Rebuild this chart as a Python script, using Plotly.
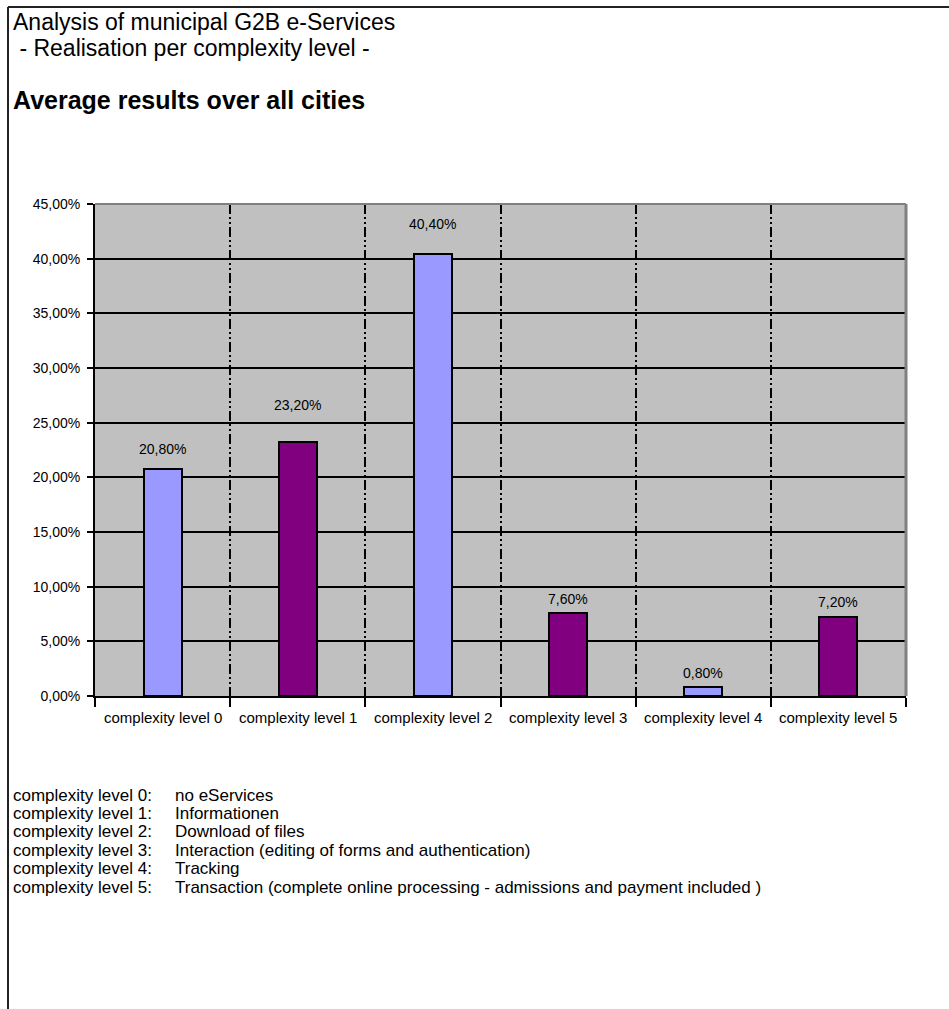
import plotly.graph_objects as go

# Share of municipal G2B e-services per complexity level (average over all cities)
categories = ["complexity level 0", "complexity level 1", "complexity level 2",
              "complexity level 3", "complexity level 4", "complexity level 5"]
shares = [0.208, 0.232, 0.404, 0.076, 0.008, 0.072]
bar_colors = ["#9999FF", "#800080", "#9999FF", "#800080", "#9999FF", "#800080"]

y_ticks = [0.0, 0.05, 0.10, 0.15, 0.20, 0.25, 0.30, 0.35, 0.40, 0.45]

level_names = ["complexity level 0:", "complexity level 1:", "complexity level 2:",
               "complexity level 3:", "complexity level 4:", "complexity level 5:"]
level_descriptions = [
    "no eServices",
    "Informationen",
    "Download of files",
    "Interaction (editing of forms and authentication)",
    "Tracking",
    "Transaction (complete online processing - admissions and payment included )",
]

# value-label lift above each bar top, in pixels
label_lift = [20, 37, 30, 14, 14, 15]

W, H = 949, 1009
L, R, T, B = 95, 906, 204, 696
FONT = "Liberation Sans, Arial, sans-serif"


def px_x(px):
    return (px - L) / (R - L)


def px_y(py):
    return (B - py) / (B - T)


x_idx = list(range(len(categories)))

fig = go.Figure()
fig.add_trace(go.Bar(
    x=x_idx,
    y=shares,
    width=0.28,
    marker=dict(color=bar_colors, line=dict(color="black", width=2)),
    hoverinfo="skip",
))

# value labels above the bars
for i, v in enumerate(shares):
    fig.add_annotation(
        x=i, y=v, xref="x", yref="y",
        text=f"{v * 100:.2f}%".replace(".", ","),
        showarrow=False, yanchor="middle", yshift=label_lift[i],
        font=dict(family=FONT, size=14, color="black"),
    )

# heading texts
fig.add_annotation(x=px_x(11), y=px_y(22), xref="paper", yref="paper",
                   text="Analysis of municipal G2B e-Services", showarrow=False,
                   xanchor="left", yanchor="middle",
                   font=dict(family=FONT, size=23, color="black"))
fig.add_annotation(x=px_x(11), y=px_y(48), xref="paper", yref="paper",
                   text=" - Realisation per complexity level -", showarrow=False,
                   xanchor="left", yanchor="middle",
                   font=dict(family=FONT, size=23, color="black"))
fig.add_annotation(x=px_x(11), y=px_y(100), xref="paper", yref="paper",
                   text="<b>Average results over all cities</b>", showarrow=False,
                   xanchor="left", yanchor="middle",
                   font=dict(family=FONT, size=25, color="black"))

# explanation of the complexity levels
for i, (name, desc) in enumerate(zip(level_names, level_descriptions)):
    yy = px_y(795 + i * 18.4)
    fig.add_annotation(x=px_x(11), y=yy, xref="paper", yref="paper",
                       text=name, showarrow=False, xanchor="left", yanchor="middle",
                       font=dict(family=FONT, size=17, color="black"))
    fig.add_annotation(x=px_x(173), y=yy, xref="paper", yref="paper",
                       text=desc, showarrow=False, xanchor="left", yanchor="middle",
                       font=dict(family=FONT, size=17, color="black"))

shapes = [
    # gray border on top and right of the plot area
    dict(type="line", xref="paper", yref="paper", x0=0, x1=1, y0=1, y1=1,
         line=dict(color="#808080", width=2), layer="above"),
    dict(type="line", xref="paper", yref="paper", x0=1, x1=1, y0=0, y1=1,
         line=dict(color="#808080", width=3), layer="above"),
    # outer frame (top and left)
    dict(type="line", xref="paper", yref="paper", x0=px_x(8), x1=px_x(W + 5),
         y0=px_y(7), y1=px_y(7), line=dict(color="#222222", width=2), layer="above"),
    dict(type="line", xref="paper", yref="paper", x0=px_x(8), x1=px_x(8),
         y0=px_y(7), y1=px_y(H + 5), line=dict(color="#222222", width=2), layer="above"),
]

fig.update_layout(
    width=W, height=H,
    margin=dict(l=L, r=W - R, t=T, b=H - B),
    paper_bgcolor="white",
    plot_bgcolor="#C0C0C0",
    showlegend=False,
    separators=",.",
    shapes=shapes,
    font=dict(family=FONT, color="black"),
    bargap=0,
)

fig.update_xaxes(
    range=[-0.5, len(categories) - 0.5],
    tickmode="array",
    tickvals=[i + 0.5 for i in range(-1, len(categories))],
    ticktext=[""] * (len(categories) + 1),
    ticks="outside", ticklen=9, tickwidth=2, tickcolor="black",
    showline=True, linecolor="black", linewidth=2,
    showgrid=True, gridcolor="black", gridwidth=2,
    griddash="10px,3px,2px,3px,2px,3px",
    zeroline=False,
    fixedrange=True,
)

# category names centred under each bar
for i, c in enumerate(categories):
    fig.add_annotation(x=i, y=px_y(717), xref="x", yref="paper", text=c,
                       showarrow=False, yanchor="middle",
                       font=dict(family=FONT, size=15, color="black"))

fig.update_yaxes(
    range=[0, 0.45],
    tickmode="array", tickvals=y_ticks,
    tickformat=".2%",
    tickfont=dict(family=FONT, size=14, color="black"),
    ticks="outside", ticklen=6, tickwidth=2, tickcolor="black",
    ticklabelstandoff=4,
    showline=True, linecolor="black", linewidth=2,
    showgrid=True, gridcolor="black", gridwidth=2,
    zeroline=False,
    fixedrange=True,
)

fig.write_html("out.html")
